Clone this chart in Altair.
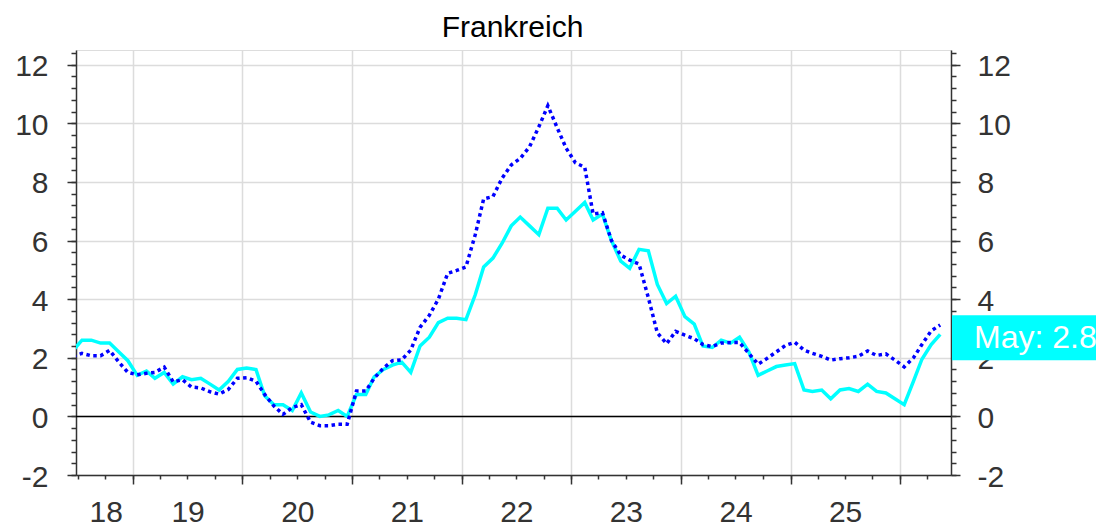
import altair as alt
import pandas as pd

# ---------------- data ----------------
# monthly observations, June 2018 .. May 2026 (plotted mid-month)
start_year, start_month, n_months = 2018, 6, 96

hicp = [
    2.25, 2.6, 2.6, 2.5, 2.5, 2.2, 1.9,                          # 2018 Jun-Dec
    1.4, 1.55, 1.3, 1.5, 1.1, 1.35, 1.25, 1.3, 1.1, 0.9, 1.2, 1.6,  # 2019
    1.65, 1.6, 0.7, 0.4, 0.4, 0.2, 0.8, 0.15, 0.0, 0.05, 0.2, 0.0,  # 2020
    0.75, 0.75, 1.35, 1.6, 1.75, 1.85, 1.5, 2.4, 2.7, 3.2, 3.35, 3.35,  # 2021
    3.3, 4.15, 5.1, 5.4, 5.9, 6.5, 6.8, 6.5, 6.2, 7.1, 7.1, 6.7,    # 2022
    7.0, 7.3, 6.7, 6.9, 6.0, 5.3, 5.05, 5.7, 5.65, 4.5, 3.85, 4.1,  # 2023
    3.4, 3.15, 2.4, 2.35, 2.6, 2.5, 2.7, 2.2, 1.4, 1.55, 1.7, 1.75, # 2024
    1.8, 0.9, 0.85, 0.9, 0.6, 0.9, 0.95, 0.85, 1.1, 0.85, 0.8, 0.6, # 2025
    0.4, 1.2, 1.95, 2.45, 2.8,                                    # 2026 Jan-May
]

dotted = [
    2.05, 2.15, 2.07, 2.07, 2.25, 1.85, 1.5,                        # 2018 Jun-Dec
    1.42, 1.47, 1.5, 1.68, 1.18, 1.25, 1.0, 0.97, 0.84, 0.76, 0.92, 1.3,  # 2019
    1.32, 1.2, 0.75, 0.35, 0.07, 0.3, 0.4, -0.2, -0.32, -0.32, -0.27, -0.27,  # 2020
    0.87, 0.87, 1.3, 1.65, 1.9, 1.93, 2.26, 3.04, 3.45, 4.0, 4.88, 4.98,  # 2021
    5.1, 6.2, 7.42, 7.5, 8.12, 8.58, 8.8, 9.2, 9.88, 10.6, 9.85, 9.15,   # 2022
    8.65, 8.5, 6.9, 6.95, 6.0, 5.5, 5.33, 5.2, 4.05, 2.85, 2.48, 2.9,    # 2023
    2.77, 2.65, 2.45, 2.38, 2.5, 2.52, 2.52, 2.15, 1.78, 1.98, 2.2, 2.42, # 2024
    2.53, 2.26, 2.15, 2.05, 1.92, 1.97, 2.0, 2.05, 2.23, 2.08, 2.13, 1.92, # 2025
    1.69, 2.0, 2.45, 2.92, 3.12,                                     # 2026 Jan-May
]

title_text = "Frankreich"
last_month_name = "May"

# ---------------- build table ----------------
dates = []
y, m = start_year, start_month
for _ in range(n_months):
    dates.append(f"{y}-{m:02d}-15")
    m += 1
    if m > 12:
        m, y = 1, y + 1

df = pd.DataFrame({"date": dates, "hicp": hicp, "dotted": dotted})
last_df = pd.DataFrame({"v": [hicp[-1]], "label": [f"{last_month_name}: {hicp[-1]}"]})
zero_df = pd.DataFrame({"v": [0]})
title_df = pd.DataFrame({"t": [title_text]})

# ---------------- styling ----------------
FONT = "Liberation Sans"
W, H = 875, 425
AX = "#333333"
GRID = "#dcdcdc"


def dt(yy, mm, dd):
    return alt.DateTime(year=yy, month=mm, date=dd, utc=True)


x_scale = alt.Scale(type="utc", domain=[dt(2018, 6, 25), dt(2026, 6, 20)])
y_scale = alt.Scale(domain=[-2, 12.5], nice=False, zero=False)

year_ticks = [dt(yy, 1, 1) for yy in range(2019, 2027)]
quarter_ticks = [dt(yy, mm, 1) for yy in range(2018, 2027) for mm in (1, 4, 7, 10)
                 if (2018, 7) <= (yy, mm) <= (2026, 4)]
label_ticks = [dt(2018, 10, 2)] + [dt(yy, 7, 2) for yy in range(2019, 2026)]

major_y = list(range(-2, 13, 2))
minor_y = [round(-2 + 0.4 * k, 2) for k in range(37)]

x_major = alt.Axis(orient="bottom", values=year_ticks, labels=False, tickSize=9, tickWidth=1.5,
                   tickColor=AX, domain=True, domainColor=AX, domainWidth=1.5, grid=True,
                   gridColor=GRID, gridWidth=1.5, title=None)
x_minor = alt.Axis(orient="bottom", values=quarter_ticks, labels=False, tickSize=4, tickWidth=1.5,
                   tickColor=AX, domain=False, grid=False, title=None)
x_labels = alt.Axis(orient="bottom", values=label_ticks, ticks=False, domain=False, grid=False,
                    labelExpr="utcFormat(datum.value, '%y')", labelFont=FONT, labelFontSize=30,
                    labelColor=AX, labelPadding=22, labelFlush=False, labelOverlap=False, title=None)

y_left = alt.Axis(orient="left", values=major_y, tickSize=9, tickWidth=1.5, tickColor=AX,
                  domain=True, domainColor=AX, domainWidth=1.5, grid=True, gridColor=GRID,
                  gridWidth=1.5, labelFont=FONT, labelFontSize=30, labelColor=AX, labelPadding=19,
                  labelOffset=2, labelExpr="'' + datum.value", labelOverlap=False, title=None)
y_right = alt.Axis(orient="right", values=major_y, tickSize=9, tickWidth=1.5, tickColor=AX,
                   domain=True, domainColor=AX, domainWidth=1.5, grid=False, labelFont=FONT,
                   labelFontSize=30, labelColor=AX, labelPadding=17, labelOffset=2,
                   labelExpr="'' + datum.value", labelOverlap=False, title=None)
y_left_minor = alt.Axis(orient="left", values=minor_y, tickSize=5, tickWidth=1.5, tickColor=AX,
                        labels=False, domain=False, grid=False, title=None)
y_right_minor = alt.Axis(orient="right", values=minor_y, tickSize=5, tickWidth=1.5, tickColor=AX,
                         labels=False, domain=False, grid=False, title=None)

base = alt.Chart(df)

zero = alt.Chart(zero_df).mark_rule(color="black", strokeWidth=1.5).encode(
    y=alt.Y("v:Q", scale=y_scale, axis=y_left_minor))

label_axis_layer = base.mark_line(strokeOpacity=0, clip=True).encode(
    x=alt.X("date:T", scale=x_scale, axis=x_labels),
    y=alt.Y("hicp:Q", scale=y_scale, axis=y_right_minor))

cyan = base.mark_line(color="#00FFFF", strokeWidth=3.5, clip=True).encode(
    x=alt.X("date:T", scale=x_scale, axis=x_major),
    y=alt.Y("hicp:Q", scale=y_scale, axis=y_left))

blue = base.mark_line(color="#0000FF", strokeWidth=3.5, strokeDash=[3.5, 3.5], strokeCap="butt",
                      clip=True).encode(
    x=alt.X("date:T", scale=x_scale, axis=x_minor),
    y=alt.Y("dotted:Q", scale=y_scale, axis=y_right))

box = alt.Chart(last_df).mark_rect(color="#00FFFF", yOffset=-19, y2Offset=26).encode(
    x=alt.value(W + 1), x2=alt.value(W + 200),
    y=alt.Y("v:Q", scale=y_scale, axis=None), y2=alt.Y2("v:Q"))

box_text = alt.Chart(last_df).mark_text(align="left", baseline="alphabetic", dy=14, font=FONT,
                                        fontSize=32, color="white").encode(
    x=alt.value(W + 23), y=alt.Y("v:Q", scale=y_scale, axis=None), text="label:N")

title = alt.Chart(title_df).mark_text(align="center", baseline="alphabetic", font=FONT,
                                      fontSize=30, color="black").encode(
    x=alt.value(W / 2 - 1), y=alt.value(-13), text="t:N")

chart = alt.layer(zero, label_axis_layer, cyan, blue, box, box_text, title).resolve_axis(
    x="independent", y="independent"
).properties(
    width=W, height=H,
    autosize=alt.AutoSizeParams(type="none"),
    padding={"left": 68, "top": 42, "right": 145, "bottom": 53},
).configure_view(stroke=None).configure(background="white")

chart.save("out.html", embed_options={"renderer": "svg", "actions": False})
